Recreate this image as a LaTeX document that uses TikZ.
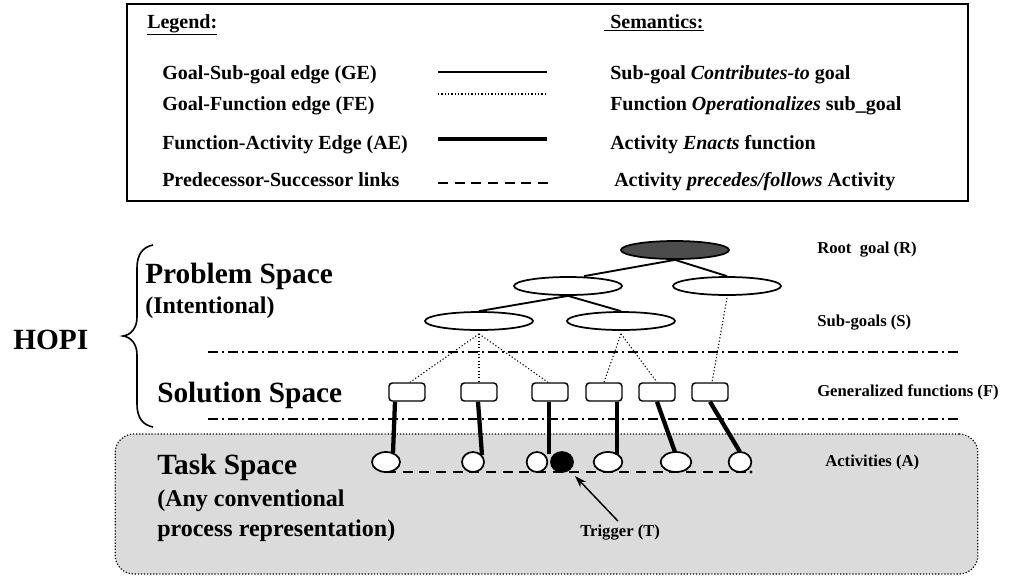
\documentclass[tikz,border=0pt]{standalone}
\usepackage{fontspec}
\setmainfont{Liberation Serif}
\usetikzlibrary{shapes.geometric,arrows.meta,calc}
\begin{document}
\begin{tikzpicture}[x=0.75pt,y=-0.75pt,
  txt/.style={anchor=base west,inner sep=0pt,font=\bfseries\fontsize{15}{18}\selectfont},
  big/.style={anchor=base west,inner sep=0pt,font=\bfseries\fontsize{22}{26}\selectfont},
  subtxt/.style={anchor=base west,inner sep=0pt,font=\bfseries\fontsize{18}{21}\selectfont},
  side/.style={anchor=west,inner sep=0pt,font=\bfseries\fontsize{12.5}{15}\selectfont},
  goal/.style={ellipse,draw,line width=1.3pt,fill=white,minimum width=81pt,minimum height=13.5pt,inner sep=0pt},
  func/.style={draw,rounded corners=2.5pt,line width=1.1pt,fill=white,minimum width=27pt,minimum height=13.5pt,inner sep=0pt},
  act/.style={ellipse,draw,line width=1.3pt,fill=white,minimum height=15pt,inner sep=0pt},
  gedge/.style={line width=1.4pt},
  fedge/.style={line width=0.8pt,dash pattern=on 0.9pt off 1.6pt},
  aedge/.style={line width=3.2pt},
  pslink/.style={line width=1.3pt,dash pattern=on 7.5pt off 5pt},
  divider/.style={line width=1pt,dash pattern=on 7.5pt off 3pt on 1.5pt off 3pt},
  bracepath/.style={line width=1.2pt},
  framebox/.style={draw,line width=1.4pt,inner sep=0pt},
  taskarea/.style={draw,fill=black!14,line width=0.9pt,dash pattern=on 0.9pt off 1.4pt,rounded corners=14pt,inner sep=0pt}
]
\useasboundingbox (0,0) rectangle (1033,576);

% ---------------- legend ----------------
\node[framebox,minimum width=630.75pt,minimum height=147.75pt] (legendbox) at (547.5,102.5) {};
\node[txt] (lghead) at (147,28) {\underline{Legend:}};
\node[txt] (semhead) at (604,28) {\underline{\hspace{4.5pt}Semantics:}};

\node[txt] (lge) at (162,79) {Goal-Sub-goal edge (GE)};
\node[txt] (lfe) at (162,110) {Goal-Function edge (FE)};
\node[txt] (lae) at (162,149) {Function-Activity Edge (AE)};
\node[txt] (lps) at (162,186) {Predecessor-Successor links};

\node[txt] (sge) at (610,79) {Sub-goal \textit{Contributes-to} goal};
\node[txt] (sfe) at (610,110) {Function \textit{Operationalizes} sub\_goal};
\node[txt] (sae) at (610,149) {Activity \textit{Enacts} function};
\node[txt] (sps) at (614,186) {Activity \textit{precedes/follows} Activity};

\coordinate (kge1) at (438,72);  \coordinate (kge2) at (547,72);
\coordinate (kfe1) at (438,94);  \coordinate (kfe2) at (547,94);
\coordinate (kae1) at (438,139); \coordinate (kae2) at (547,139);
\coordinate (kps1) at (438,183); \coordinate (kps2) at (552,183);
\draw[gedge] (kge1) -- (kge2);
\draw[fedge] (kfe1) -- (kfe2);
\draw[aedge] (kae1) -- (kae2);
\draw[pslink] (kps1) -- (kps2);

% ---------------- task space background ----------------
\node[taskarea,minimum width=647pt,minimum height=105pt] (task) at (546.5,504) {};

% ---------------- space labels ----------------
\node[big] (hopi) at (13,349) {HOPI};
\draw[bracepath] (153,245) .. controls (143,247) and (137,254) .. (137,268)
  -- (137,317) .. controls (137,328) and (131,335) .. (123,336)
  .. controls (131,337) and (137,344) .. (137,355)
  -- (137,404) .. controls (137,418) and (143,425) .. (153,427);
\node[big] (prob) at (145,283) {Problem Space};
\node[subtxt] (intent) at (145,313) {(Intentional)};
\node[big] (sol) at (157,402) {Solution Space};
\node[big] (taskname) at (157,474) {Task Space};
\node[subtxt] (conv1) at (157,506) {(Any conventional};
\node[subtxt] (conv2) at (157,536) {process representation)};

% ---------------- level dividers ----------------
\coordinate (dv1a) at (208,352); \coordinate (dv1b) at (958,352);
\coordinate (dv2a) at (208,419); \coordinate (dv2b) at (958,419);
\draw[divider] (dv1a) -- (dv1b);
\draw[divider] (dv2a) -- (dv2b);

% ---------------- goal tree ----------------
\node[goal,fill=black!70] (root) at (675,250) {};
\node[goal] (g2a) at (568,286) {};
\node[goal] (g2b) at (727,286) {};
\node[goal] (g3a) at (479,321) {};
\node[goal] (g3b) at (621,321) {};

\draw[gedge] (root.south) -- ($(g2a.north)+(16,0)$);
\draw[gedge] (root.south) -- (g2b.north);
\draw[gedge] (g2a.south) -- (g3a.north);
\draw[gedge] (g2a.south) -- (g3b.north);

% ---------------- generalized functions ----------------
\node[func] (f1) at (407,392) {};
\node[func] (f2) at (479,392) {};
\node[func] (f3) at (550,392) {};
\node[func] (f4) at (604,392) {};
\node[func] (f5) at (657,392) {};
\node[func] (f6) at (710,392) {};

\draw[fedge] ($(g3a.south)+(0,3)$) -- ($(f1.north)+(3,0)$);
\draw[fedge] ($(g3a.south)+(0,3)$) -- (f2.north);
\draw[fedge] ($(g3a.south)+(0,3)$) -- ($(f3.north)+(-2,0)$);
\draw[fedge] ($(g3b.south)+(0,3)$) -- (f4.north);
\draw[fedge] ($(g3b.south)+(0,3)$) -- (f5.north);
\draw[fedge] ($(g2b.south)+(0,2)$) -- ($(f6.north)+(2,0)$);

% ---------------- activities ----------------
\coordinate (psa) at (386,472); \coordinate (psb) at (751,472);
\draw[pslink] (psa) -- (psb);
\fill (psb) circle (1.6);

\node[act,minimum width=21pt] (a1) at (386,462) {};
\node[act,minimum width=16.5pt] (a2) at (473,462) {};
\node[act,minimum width=15.5pt] (a3) at (537,462) {};
\node[act,minimum width=16.5pt,fill=black] (trg) at (562,462) {};
\node[act,minimum width=21.5pt] (a4) at (608,462) {};
\node[act,minimum width=23pt] (a5) at (676,462) {};
\node[act,minimum width=17pt] (a6) at (740,462) {};

\draw[aedge] ($(f1.south)+(-12,0)$) -- ($(a1)+(7,-9)$);
\draw[aedge] ($(f2.south)+(-1,0)$) -- ($(a2)+(9,-7)$);
\draw[aedge] ($(f3.south)+(-1,0)$) -- ($(a3)+(12,-8)$);
\draw[aedge] ($(f4.south)+(13,0)$) -- ($(a4)+(9,-8)$);
\draw[aedge] (f5.south) -- ($(a5)+(-1,-10)$);
\draw[aedge] (f6.south) -- ($(a6)+(0,-10)$);

% ---------------- level labels ----------------
\node[side] (lr) at (817,250) {Root~ goal (R)};
\node[side] (ls) at (817,323) {Sub-goals (S)};
\node[side] (lf) at (817,392) {Generalized functions (F)};
\node[side] (la) at (825,462) {Activities (A)};

\node[side] (lt) at (580,533) {Trigger (T)};
\draw[line width=1.1pt,-{Stealth[length=9pt,width=6pt]}] ($(lt.north west)+(38,-4)$) -- ($(trg)+(13,14)$);
\end{tikzpicture}
\end{document}
